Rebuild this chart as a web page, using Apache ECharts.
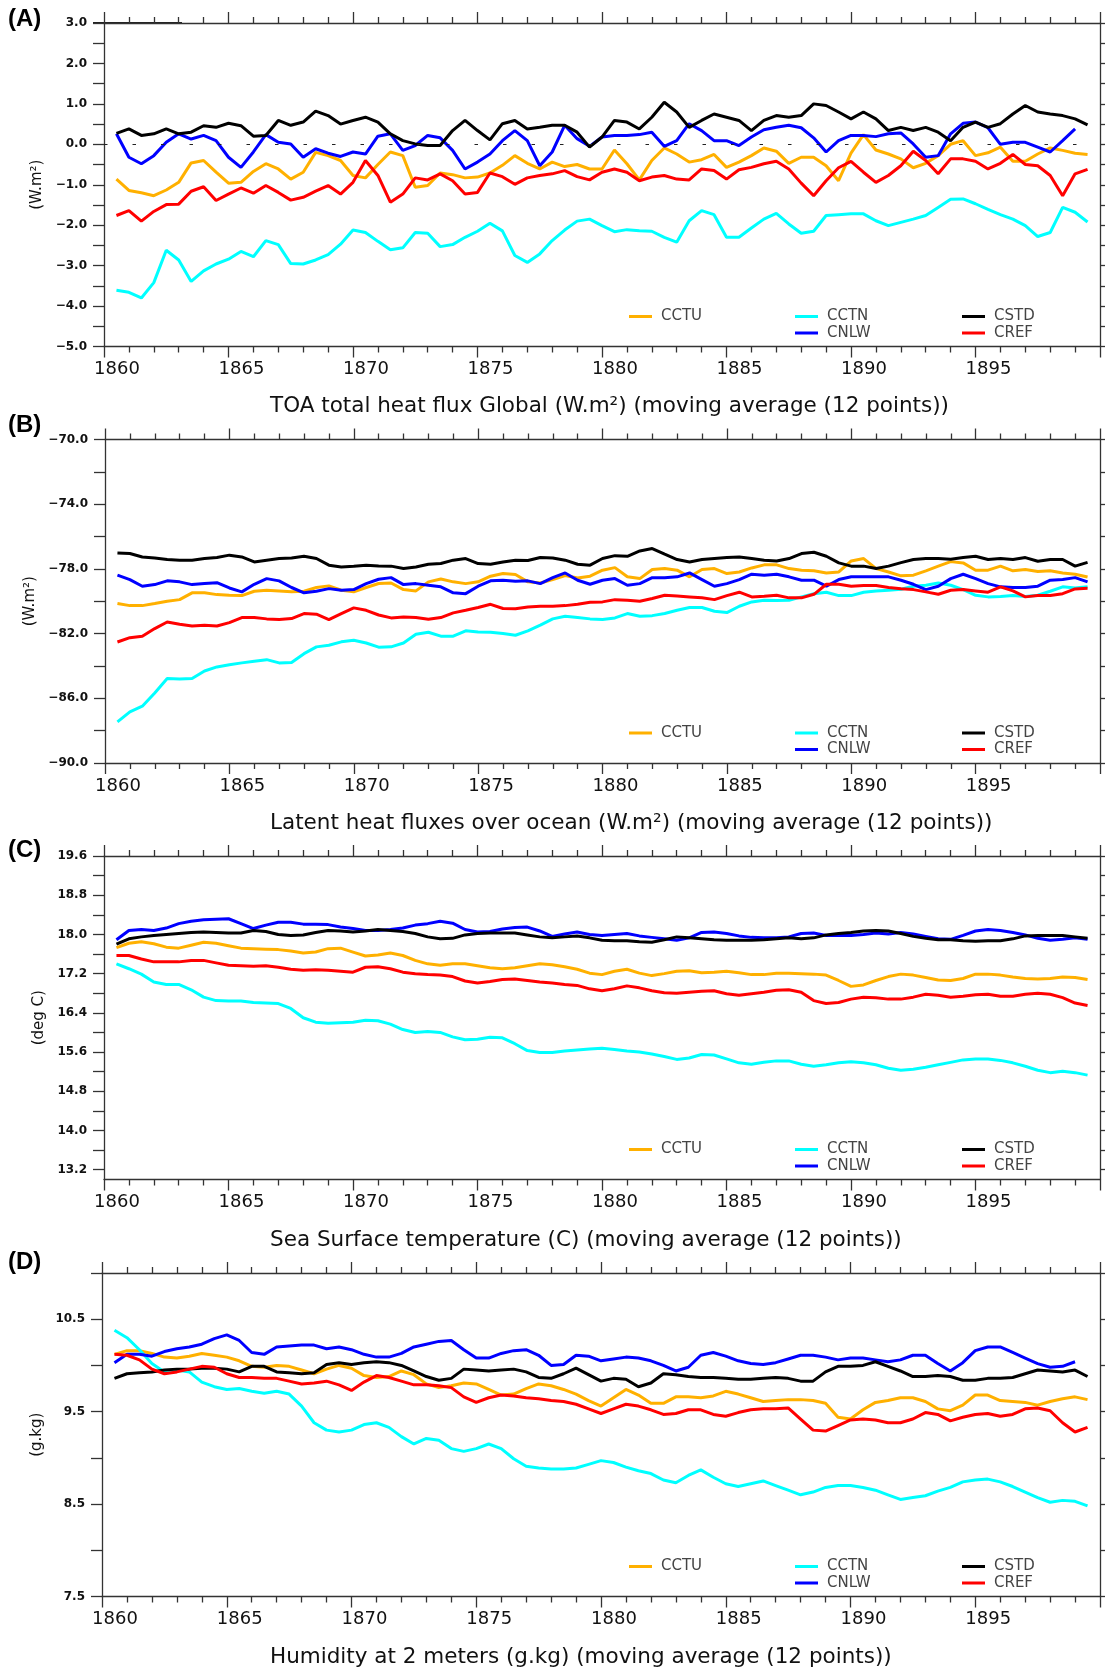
<!DOCTYPE html>
<html>
<head>
<meta charset="utf-8">
<script src="https://cdn.jsdelivr.net/npm/echarts@6/dist/echarts.min.js"></script>
<style>
  html, body { margin: 0; padding: 0; background: #fff; }
  #main { width: 1105px; height: 1670px; }
</style>
</head>
<body>
<div id="main"></div>
<script>
// time coordinate of the 12-point moving averages (half-year samples)
var years = [];
for (var i = 0; i < 79; i++) years.push(1860.5 + i * 0.5);

var names = ["CCTU", "CCTN", "CNLW", "CSTD", "CREF"];
var colors = { CCTU: "#ffb000", CCTN: "#00ffff", CNLW: "#0000ff", CSTD: "#000000", CREF: "#ff0000" };

// (A) TOA total heat flux
var toaCCTU = [-0.86, -1.14, -1.20, -1.27, -1.13, -0.94, -0.46, -0.40, -0.69, -0.96, -0.94, -0.67, -0.48, -0.61, -0.86, -0.69, -0.20, -0.28, -0.40, -0.77, -0.83, -0.50,
  -0.19, -0.28, -1.06, -1.02, -0.71, -0.75, -0.83, -0.81, -0.71, -0.52, -0.28, -0.47, -0.61, -0.44, -0.55, -0.50, -0.61, -0.61, -0.14, -0.48, -0.88, -0.40, -0.09, -0.24, -0.44, -0.38, -0.25, -0.57,
  -0.44, -0.28, -0.09, -0.17, -0.47, -0.32, -0.32, -0.53, -0.90, -0.22, 0.24, -0.14, -0.24, -0.36, -0.58, -0.47, -0.28, 0.00, 0.09, -0.28, -0.21, -0.07, -0.42, -0.42, -0.24, -0.09, -0.15, -0.22, -0.25];
var toaCCTN = [-3.61, -3.66, -3.80, -3.42, -2.62, -2.86, -3.39, -3.13, -2.96, -2.84, -2.65, -2.78, -2.38, -2.48, -2.95, -2.96, -2.86, -2.73, -2.47, -2.12, -2.18, -2.40,
  -2.61, -2.56, -2.18, -2.20, -2.53, -2.48, -2.30, -2.15, -1.95, -2.14, -2.75, -2.92, -2.71, -2.38, -2.12, -1.90, -1.85, -2.01, -2.16, -2.11, -2.14, -2.15, -2.30, -2.42, -1.89, -1.64, -1.74, -2.30,
  -2.30, -2.07, -1.85, -1.71, -1.97, -2.20, -2.15, -1.76, -1.74, -1.72, -1.72, -1.89, -2.01, -1.93, -1.85, -1.76, -1.56, -1.36, -1.35, -1.47, -1.61, -1.74, -1.85, -2.01, -2.28, -2.18, -1.56, -1.68, -1.92];
var toaCNLW = [0.26, -0.32, -0.48, -0.28, 0.05, 0.26, 0.13, 0.22, 0.09, -0.32, -0.57, -0.19, 0.24, 0.05, 0.01, -0.32, -0.11, -0.22, -0.30, -0.19, -0.24, 0.20,
  0.26, -0.15, -0.03, 0.22, 0.16, -0.15, -0.61, -0.44, -0.24, 0.09, 0.34, 0.09, -0.53, -0.19, 0.47, 0.14, -0.05, 0.18, 0.22, 0.22, 0.24, 0.30, -0.05, 0.09, 0.51, 0.34, 0.09, 0.09,
  -0.03, 0.18, 0.36, 0.42, 0.47, 0.41, 0.16, -0.19, 0.09, 0.22, 0.22, 0.19, 0.26, 0.28, 0.01, -0.32, -0.28, 0.26, 0.52, 0.55, 0.41, 0.00, 0.05, 0.05, -0.07, -0.19, 0.09, 0.38, null];
var toaCSTD = [0.27, 0.38, 0.22, 0.26, 0.38, 0.26, 0.30, 0.46, 0.42, 0.52, 0.46, 0.20, 0.22, 0.59, 0.47, 0.55, 0.82, 0.71, 0.50, 0.59, 0.67, 0.55,
  0.26, 0.09, 0.01, -0.03, -0.03, 0.34, 0.59, 0.34, 0.11, 0.51, 0.59, 0.38, 0.42, 0.47, 0.47, 0.30, -0.07, 0.18, 0.59, 0.55, 0.38, 0.67, 1.04, 0.80, 0.42, 0.59, 0.75, 0.67,
  0.59, 0.34, 0.59, 0.71, 0.67, 0.71, 1.00, 0.96, 0.80, 0.63, 0.80, 0.63, 0.34, 0.42, 0.34, 0.42, 0.30, 0.09, 0.42, 0.55, 0.42, 0.51, 0.75, 0.96, 0.80, 0.75, 0.71, 0.63, 0.48];
var toaCREF = [-1.76, -1.64, -1.90, -1.66, -1.49, -1.48, -1.16, -1.05, -1.39, -1.23, -1.08, -1.21, -1.02, -1.19, -1.38, -1.31, -1.16, -1.02, -1.23, -0.94, -0.40, -0.77,
  -1.43, -1.23, -0.83, -0.88, -0.73, -0.90, -1.23, -1.19, -0.71, -0.80, -0.99, -0.83, -0.77, -0.73, -0.65, -0.80, -0.88, -0.69, -0.61, -0.69, -0.90, -0.81, -0.77, -0.86, -0.88, -0.61, -0.65, -0.86,
  -0.63, -0.57, -0.48, -0.42, -0.61, -0.96, -1.27, -0.90, -0.58, -0.42, -0.69, -0.94, -0.77, -0.53, -0.17, -0.40, -0.73, -0.36, -0.36, -0.42, -0.61, -0.47, -0.25, -0.50, -0.53, -0.77, -1.27, -0.73, -0.62];

// (B) latent heat flux over ocean
var lhfCCTU = [-80.14, -80.27, -80.27, -80.14, -80.00, -79.90, -79.48, -79.48, -79.59, -79.63, -79.65, -79.38, -79.32, -79.36, -79.42, -79.38, -79.15, -79.05, -79.32, -79.42, -79.15, -78.90,
  -78.87, -79.28, -79.36, -78.80, -78.62, -78.80, -78.91, -78.80, -78.45, -78.29, -78.35, -78.80, -78.87, -78.66, -78.41, -78.56, -78.45, -78.08, -77.92, -78.49, -78.60, -78.04, -77.98, -78.08, -78.49, -78.04, -77.98, -78.29,
  -78.19, -77.94, -77.75, -77.75, -77.98, -78.08, -78.12, -78.25, -78.19, -77.51, -77.36, -77.98, -78.19, -78.43, -78.39, -78.12, -77.83, -77.55, -77.63, -78.08, -78.08, -77.83, -78.12, -78.04, -78.16, -78.12, -78.25, -78.33, -78.50];
var lhfCCTN = [-87.46, -86.84, -86.49, -85.67, -84.78, -84.80, -84.78, -84.31, -84.06, -83.92, -83.81, -83.71, -83.61, -83.81, -83.79, -83.24, -82.82, -82.72, -82.51, -82.41, -82.58, -82.84,
  -82.82, -82.58, -82.04, -81.92, -82.16, -82.16, -81.83, -81.90, -81.92, -82.00, -82.10, -81.83, -81.48, -81.09, -80.93, -81.01, -81.09, -81.13, -81.03, -80.76, -80.93, -80.89, -80.76, -80.56, -80.39, -80.39, -80.62, -80.70,
  -80.31, -80.04, -79.94, -79.96, -79.94, -79.73, -79.53, -79.44, -79.65, -79.65, -79.44, -79.36, -79.32, -79.26, -79.07, -79.01, -78.87, -79.01, -79.28, -79.63, -79.73, -79.71, -79.65, -79.71, -79.63, -79.38, -79.11, -79.18, -79.10];
var lhfCNLW = [-78.39, -78.66, -79.07, -78.97, -78.74, -78.80, -78.97, -78.91, -78.85, -79.18, -79.42, -78.95, -78.60, -78.74, -79.15, -79.48, -79.38, -79.22, -79.32, -79.28, -78.91, -78.64,
  -78.54, -78.97, -78.91, -79.01, -79.11, -79.48, -79.53, -79.07, -78.74, -78.70, -78.76, -78.74, -78.91, -78.54, -78.25, -78.70, -78.95, -78.70, -78.60, -79.01, -78.91, -78.54, -78.54, -78.49, -78.25, -78.66, -79.07, -78.91,
  -78.66, -78.33, -78.39, -78.33, -78.49, -78.70, -78.70, -79.07, -78.66, -78.49, -78.49, -78.49, -78.49, -78.70, -78.95, -79.28, -79.07, -78.60, -78.33, -78.60, -78.91, -79.11, -79.15, -79.15, -79.07, -78.70, -78.66, -78.54, -78.80];
var lhfCSTD = [-77.01, -77.05, -77.26, -77.32, -77.42, -77.46, -77.46, -77.36, -77.30, -77.15, -77.26, -77.57, -77.46, -77.36, -77.32, -77.22, -77.36, -77.77, -77.88, -77.84, -77.77, -77.82,
  -77.83, -77.98, -77.88, -77.71, -77.67, -77.46, -77.36, -77.67, -77.71, -77.57, -77.46, -77.48, -77.30, -77.32, -77.46, -77.71, -77.77, -77.36, -77.18, -77.22, -76.89, -76.74, -77.09, -77.42, -77.57, -77.42, -77.36, -77.30,
  -77.26, -77.36, -77.46, -77.51, -77.36, -77.05, -76.97, -77.22, -77.63, -77.83, -77.83, -77.98, -77.83, -77.61, -77.42, -77.36, -77.36, -77.40, -77.30, -77.22, -77.42, -77.36, -77.42, -77.30, -77.53, -77.42, -77.42, -77.83, -77.60];
var lhfCREF = [-82.52, -82.25, -82.16, -81.69, -81.28, -81.42, -81.53, -81.48, -81.53, -81.32, -81.01, -81.01, -81.09, -81.13, -81.07, -80.76, -80.80, -81.13, -80.76, -80.41, -80.56, -80.85,
  -81.03, -80.97, -81.01, -81.11, -81.01, -80.72, -80.56, -80.39, -80.19, -80.45, -80.47, -80.35, -80.31, -80.31, -80.27, -80.19, -80.06, -80.04, -79.90, -79.94, -80.00, -79.83, -79.63, -79.67, -79.73, -79.79, -79.90, -79.65,
  -79.44, -79.73, -79.69, -79.63, -79.79, -79.79, -79.57, -78.95, -78.95, -79.07, -79.03, -79.03, -79.15, -79.22, -79.28, -79.42, -79.57, -79.32, -79.28, -79.36, -79.44, -79.11, -79.36, -79.73, -79.65, -79.65, -79.53, -79.24, -79.20];

// (C) sea surface temperature
var sstCCTU = [17.73, 17.82, 17.85, 17.81, 17.74, 17.72, 17.78, 17.84, 17.82, 17.77, 17.72, 17.71, 17.70, 17.69, 17.66, 17.62, 17.64, 17.71, 17.72, 17.64, 17.56, 17.58,
  17.62, 17.57, 17.47, 17.40, 17.37, 17.40, 17.40, 17.36, 17.32, 17.30, 17.32, 17.36, 17.40, 17.38, 17.34, 17.29, 17.21, 17.18, 17.25, 17.29,
  17.21, 17.16, 17.20, 17.25, 17.26, 17.22, 17.23, 17.25, 17.22, 17.18, 17.18, 17.21, 17.21, 17.20, 17.19, 17.17, 17.06, 16.94, 16.97, 17.06,
  17.14, 17.19, 17.17, 17.12, 17.07, 17.06, 17.10, 17.19, 17.19, 17.17, 17.13, 17.10, 17.09, 17.10, 17.13, 17.12, 17.08];
var sstCCTN = [17.40, 17.30, 17.19, 17.03, 16.98, 16.98, 16.87, 16.72, 16.65, 16.64, 16.64, 16.61, 16.60, 16.59, 16.49, 16.30, 16.21, 16.19, 16.20, 16.21, 16.25, 16.24,
  16.17, 16.06, 16.00, 16.02, 16.00, 15.91, 15.85, 15.86, 15.90, 15.89, 15.77, 15.63, 15.59, 15.59, 15.62, 15.64, 15.66, 15.68, 15.65, 15.62,
  15.60, 15.56, 15.51, 15.45, 15.48, 15.55, 15.54, 15.46, 15.38, 15.35, 15.39, 15.42, 15.42, 15.35, 15.31, 15.34, 15.38, 15.40, 15.38, 15.34,
  15.27, 15.23, 15.25, 15.29, 15.34, 15.39, 15.44, 15.46, 15.46, 15.43, 15.38, 15.31, 15.23, 15.18, 15.21, 15.18, 15.13];
var sstCNLW = [17.89, 18.08, 18.10, 18.08, 18.13, 18.22, 18.27, 18.30, 18.31, 18.32, 18.22, 18.12, 18.19, 18.25, 18.25, 18.21, 18.21, 18.20, 18.15, 18.12, 18.08, 18.08,
  18.10, 18.13, 18.19, 18.22, 18.27, 18.23, 18.10, 18.05, 18.06, 18.11, 18.14, 18.15, 18.07, 17.96, 18.01, 18.05, 18.00, 17.98, 18.00, 18.02,
  17.97, 17.94, 17.91, 17.88, 17.93, 18.04, 18.05, 18.02, 17.97, 17.94, 17.93, 17.93, 17.95, 18.02, 18.03, 17.98, 17.98, 17.98, 18.00, 18.03,
  18.01, 18.04, 18.01, 17.96, 17.91, 17.90, 17.98, 18.07, 18.10, 18.08, 18.04, 17.99, 17.92, 17.88, 17.90, 17.93, 17.90];
var sstCSTD = [17.80, 17.91, 17.95, 17.98, 18.00, 18.02, 18.04, 18.05, 18.04, 18.03, 18.03, 18.08, 18.06, 18.00, 17.98, 17.99, 18.04, 18.08, 18.07, 18.05, 18.07, 18.10,
  18.08, 18.06, 18.02, 17.95, 17.91, 17.92, 17.99, 18.02, 18.03, 18.03, 18.03, 17.99, 17.95, 17.93, 17.95, 17.97, 17.93, 17.88, 17.87, 17.87,
  17.85, 17.84, 17.89, 17.95, 17.93, 17.91, 17.89, 17.88, 17.88, 17.88, 17.89, 17.91, 17.93, 17.91, 17.93, 17.99, 18.02, 18.04, 18.07, 18.08,
  18.07, 18.02, 17.96, 17.92, 17.89, 17.89, 17.87, 17.86, 17.87, 17.87, 17.91, 17.97, 17.98, 17.98, 17.98, 17.95, 17.92];
var sstCREF = [17.57, 17.57, 17.50, 17.44, 17.44, 17.44, 17.47, 17.47, 17.42, 17.37, 17.36, 17.35, 17.36, 17.33, 17.29, 17.27, 17.28, 17.27, 17.25, 17.23, 17.33, 17.34,
  17.30, 17.23, 17.20, 17.18, 17.17, 17.14, 17.05, 17.01, 17.04, 17.08, 17.09, 17.06, 17.03, 17.01, 16.98, 16.96, 16.89, 16.85, 16.89, 16.95,
  16.91, 16.85, 16.81, 16.80, 16.82, 16.84, 16.85, 16.79, 16.76, 16.79, 16.82, 16.86, 16.87, 16.82, 16.65, 16.59, 16.61, 16.68, 16.72, 16.71,
  16.68, 16.68, 16.72, 16.78, 16.76, 16.72, 16.74, 16.77, 16.78, 16.74, 16.74, 16.78, 16.80, 16.78, 16.71, 16.60, 16.55];

// (D) humidity at 2 m
var humCCTU = [10.12, 10.16, 10.16, 10.13, 10.09, 10.08, 10.10, 10.13, 10.11, 10.09, 10.05, 9.99, 9.98, 10.00, 9.99, 9.95, 9.91, 9.96, 10.00, 9.97, 9.89, 9.87,
  9.88, 9.94, 9.90, 9.80, 9.76, 9.78, 9.81, 9.80, 9.74, 9.68, 9.69, 9.75, 9.80, 9.78, 9.74, 9.69, 9.62, 9.56, 9.65, 9.74,
  9.68, 9.59, 9.59, 9.66, 9.66, 9.65, 9.67, 9.72, 9.69, 9.65, 9.61, 9.62, 9.63, 9.63, 9.62, 9.59, 9.44, 9.42, 9.52, 9.60,
  9.62, 9.65, 9.65, 9.61, 9.53, 9.51, 9.57, 9.68, 9.68, 9.62, 9.61, 9.60, 9.57, 9.61, 9.64, 9.66, 9.63];
var humCCTN = [10.38, 10.30, 10.17, 10.02, 9.93, 9.95, 9.93, 9.82, 9.77, 9.74, 9.75, 9.72, 9.70, 9.72, 9.69, 9.56, 9.38, 9.30, 9.28, 9.30, 9.36, 9.38,
  9.33, 9.23, 9.15, 9.21, 9.19, 9.10, 9.07, 9.10, 9.15, 9.10, 8.99, 8.91, 8.89, 8.88, 8.88, 8.89, 8.93, 8.97, 8.95, 8.90,
  8.86, 8.83, 8.76, 8.73, 8.81, 8.87, 8.79, 8.72, 8.69, 8.72, 8.75, 8.70, 8.65, 8.60, 8.63, 8.68, 8.70, 8.70, 8.68, 8.65,
  8.60, 8.55, 8.57, 8.59, 8.64, 8.68, 8.74, 8.76, 8.77, 8.74, 8.69, 8.63, 8.57, 8.52, 8.54, 8.53, 8.48];
var humCNLW = [10.03, 10.12, 10.12, 10.10, 10.15, 10.18, 10.20, 10.23, 10.29, 10.33, 10.27, 10.14, 10.12, 10.20, 10.21, 10.22, 10.22, 10.18, 10.20, 10.17, 10.12, 10.09,
  10.09, 10.13, 10.20, 10.23, 10.26, 10.27, 10.17, 10.08, 10.08, 10.13, 10.16, 10.17, 10.11, 10.00, 10.01, 10.11, 10.10, 10.05, 10.07, 10.09,
  10.08, 10.05, 10.00, 9.94, 9.98, 10.11, 10.14, 10.10, 10.05, 10.02, 10.01, 10.03, 10.07, 10.11, 10.11, 10.09, 10.06, 10.08, 10.08, 10.06,
  10.04, 10.06, 10.11, 10.11, 10.02, 9.94, 10.03, 10.16, 10.20, 10.20, 10.14, 10.08, 10.02, 9.98, 9.99, 10.04, null];
var humCSTD = [9.86, 9.91, 9.92, 9.93, 9.95, 9.96, 9.96, 9.97, 9.97, 9.96, 9.93, 9.99, 9.99, 9.93, 9.92, 9.91, 9.92, 10.01, 10.03, 10.01, 10.03, 10.04,
  10.03, 10.00, 9.94, 9.88, 9.84, 9.86, 9.96, 9.95, 9.94, 9.95, 9.96, 9.93, 9.87, 9.86, 9.91, 9.97, 9.90, 9.83, 9.86, 9.85,
  9.77, 9.81, 9.91, 9.90, 9.88, 9.87, 9.87, 9.86, 9.85, 9.85, 9.86, 9.87, 9.86, 9.83, 9.83, 9.93, 9.99, 9.99, 10.00, 10.04,
  9.99, 9.94, 9.88, 9.88, 9.89, 9.88, 9.84, 9.84, 9.86, 9.86, 9.87, 9.91, 9.95, 9.94, 9.93, 9.95, 9.88];
var humCREF = [10.12, 10.11, 10.06, 9.96, 9.91, 9.93, 9.96, 9.99, 9.98, 9.91, 9.87, 9.87, 9.86, 9.86, 9.83, 9.80, 9.81, 9.83, 9.79, 9.73, 9.82, 9.89,
  9.87, 9.83, 9.79, 9.79, 9.78, 9.76, 9.66, 9.60, 9.65, 9.68, 9.67, 9.65, 9.64, 9.62, 9.61, 9.58, 9.53, 9.48, 9.53, 9.58,
  9.56, 9.52, 9.47, 9.48, 9.52, 9.52, 9.47, 9.45, 9.49, 9.52, 9.53, 9.53, 9.54, 9.42, 9.30, 9.29, 9.35, 9.41, 9.42, 9.41,
  9.38, 9.38, 9.42, 9.49, 9.47, 9.40, 9.44, 9.47, 9.48, 9.45, 9.47, 9.53, 9.54, 9.51, 9.38, 9.28, 9.33];

// y-axis ticks and labels
var toaLabels = [-5, -4, -3, -2, -1, 0, 1, 2, 3];
var toaTicks = [-5, -4.5, -4, -3.5, -3, -2.5, -2, -1.5, -1, -0.5, 0, 0.5, 1, 1.5, 2, 2.5, 3];
var lhfLabels = [-90, -86, -82, -78, -74, -70];
var lhfTicks = [-90, -88, -86, -84, -82, -80, -78, -76, -74, -72, -70];
var sstLabels = [13.2, 14.0, 14.8, 15.6, 16.4, 17.2, 18.0, 18.8, 19.6];
var sstTicks = [13.2, 13.6, 14.0, 14.4, 14.8, 15.2, 15.6, 16.0, 16.4, 16.8, 17.2, 17.6, 18.0, 18.4, 18.8, 19.2, 19.6];
var humLabels = [7.5, 8.5, 9.5, 10.5];
var humTicks = [7.5, 8.0, 8.5, 9.0, 9.5, 10.0, 10.5, 11.0];

var panels = [
  { letter: "(A)", letterTop: 5, left: 104, top: 23, min: -5, max: 3, labels: toaLabels, ticks: toaTicks,
    unit: "(W.m\u00b2)", nameGap: 58, captionY: 406,
    caption: "TOA total heat flux Global (W.m\u00b2) (moving average (12 points))",
    data: { CCTU: toaCCTU, CCTN: toaCCTN, CNLW: toaCNLW, CSTD: toaCSTD, CREF: toaCREF } },
  { letter: "(B)", letterTop: 411, left: 105, top: 439.5, min: -90, max: -70, labels: lhfLabels, ticks: lhfTicks,
    unit: "(W.m\u00b2)", nameGap: 66, captionY: 823,
    caption: "Latent heat fluxes over ocean (W.m\u00b2) (moving average (12 points))",
    data: { CCTU: lhfCCTU, CCTN: lhfCCTN, CNLW: lhfCNLW, CSTD: lhfCSTD, CREF: lhfCREF } },
  { letter: "(C)", letterTop: 836, left: 104, top: 856, min: 13.0, max: 19.6, labels: sstLabels, ticks: sstTicks,
    unit: "(deg C)", nameGap: 56, captionY: 1240,
    caption: "Sea Surface temperature (C) (moving average (12 points))",
    data: { CCTU: sstCCTU, CCTN: sstCCTN, CNLW: sstCNLW, CSTD: sstCSTD, CREF: sstCREF } },
  { letter: "(D)", letterTop: 1248, left: 102, top: 1273, min: 7.5, max: 11.0, labels: humLabels, ticks: humTicks,
    unit: "(g.kg)", nameGap: 56, captionY: 1657,
    caption: "Humidity at 2 meters (g.kg) (moving average (12 points))",
    data: { CCTU: humCCTU, CCTN: humCCTN, CNLW: humCNLW, CSTD: humCSTD, CREF: humCREF } }
];

var plotRight = 1100;
var plotHeight = 323.5;
var axisColor = "#333";

// legend slots: icon left x and row (0 upper, 1 lower)
var legendSlots = [
  { name: "CCTU", x: 629, row: 0 },
  { name: "CCTN", x: 795, row: 0 },
  { name: "CNLW", x: 795, row: 1 },
  { name: "CSTD", x: 962, row: 0 },
  { name: "CREF", x: 962, row: 1 }
];

var grids = [], xAxes = [], yAxes = [], series = [], legends = [], titles = [];

panels.forEach(function (p, k) {
  grids.push({ left: p.left, top: p.top, width: plotRight - p.left, height: plotHeight });

  var xBase = {
    type: "value", gridIndex: k, min: 1860, max: 1900, interval: 5,
    axisLine: { show: true, onZero: false, lineStyle: { color: axisColor, width: 1.3 } },
    axisTick: { show: true, length: 11, lineStyle: { color: axisColor, width: 1.3 } },
    minorTick: { show: true, splitNumber: 5, length: 6, lineStyle: { color: axisColor, width: 1.3 } },
    splitLine: { show: false }, minorSplitLine: { show: false }
  };
  xAxes.push(Object.assign({}, xBase, {
    position: "bottom",
    axisLabel: {
      show: true, margin: 14, fontSize: 18, color: "#111", padding: [0, 0, 0, 26],
      formatter: function (v) { return v >= 1900 ? "" : String(v); }
    }
  }));
  xAxes.push(Object.assign({}, xBase, { position: "top", axisLabel: { show: false } }));

  var fmt = function (v) { return Number(v).toFixed(1).replace("-", "\u2212"); };
  yAxes.push({
    type: "value", gridIndex: k, position: "left", min: p.min, max: p.max,
    axisLine: { show: true, onZero: false, lineStyle: { color: axisColor, width: 1.3 } },
    axisTick: { show: true, length: 11, customValues: p.ticks, lineStyle: { color: axisColor, width: 1.3 } },
    axisLabel: { show: true, customValues: p.labels, formatter: fmt, margin: 17, fontSize: 12, fontWeight: "bold", color: "#111" },
    splitLine: { show: false },
    name: p.unit, nameLocation: "middle", nameGap: p.nameGap,
    nameTextStyle: { fontSize: 15, color: "#111" }
  });
  yAxes.push({
    type: "value", gridIndex: k, position: "right", min: p.min, max: p.max,
    axisLine: { show: true, onZero: false, lineStyle: { color: axisColor, width: 1.3 } },
    axisTick: { show: true, length: 5, customValues: p.ticks, lineStyle: { color: axisColor, width: 1.3 } },
    axisLabel: { show: false },
    splitLine: { show: false }
  });

  names.forEach(function (n) {
    var s = {
      name: n, type: "line", xAxisIndex: 2 * k, yAxisIndex: 2 * k,
      showSymbol: false, symbol: "none", connectNulls: false,
      lineStyle: { color: colors[n], width: 3 },
      itemStyle: { color: colors[n] },
      data: years.map(function (y, i) { return [y, p.data[n][i]]; })
    };
    if (k === 0 && n === "CSTD") {
      s.markLine = {
        silent: true, symbol: "none", label: { show: false },
        lineStyle: { color: "#222", type: [3.5, 25], width: 1 },
        data: [{ yAxis: 0 }]
      };
    }
    series.push(s);
  });

  var bottom = p.top + plotHeight;
  legendSlots.forEach(function (slot) {
    legends.push({
      left: slot.x, top: bottom - (slot.row === 0 ? 42.5 : 26),
      padding: 0, itemGap: 0, data: [slot.name], selectedMode: false,
      icon: "rect", itemWidth: 23, itemHeight: 3,
      textStyle: { fontSize: 15, color: "#444", lineHeight: 16, padding: [0, 0, 9, 4] }
    });
  });

  titles.push({
    text: p.letter, left: 8, top: p.letterTop, padding: 0,
    textStyle: { fontFamily: "Liberation Sans", fontWeight: "bold", fontSize: 24, lineHeight: 28, color: "#000" }
  });
  titles.push({
    text: p.caption, left: 270, top: p.captionY - 13, padding: 0,
    textStyle: { fontFamily: "DejaVu Sans", fontWeight: "normal", fontSize: 21.5, lineHeight: 26, color: "#111" }
  });
});

var chart = echarts.init(document.getElementById("main"));
chart.setOption({
  animation: false,
  backgroundColor: "#fff",
  textStyle: { fontFamily: "DejaVu Sans" },
  title: titles,
  legend: legends,
  grid: grids,
  xAxis: xAxes,
  yAxis: yAxes,
  series: series,
  graphic: [{
    type: "line", shape: { x1: 93, y1: 23, x2: 182, y2: 23 },
    style: { stroke: "#222", lineWidth: 2 }, silent: true
  }]
});
</script>
</body>
</html>
